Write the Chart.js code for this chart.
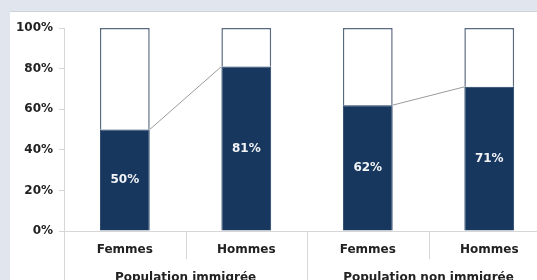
<!DOCTYPE html>
<html>
<head>
<meta charset="utf-8">
<script src="https://cdn.jsdelivr.net/npm/chart.js@4/dist/chart.umd.min.js"></script>
<style>
    html, body { margin: 0; padding: 0; overflow: hidden; }
    body { width: 537px; height: 280px; background: #e1e5ed; position: relative; }
    .panel {
        position: absolute; left: 10px; top: 11px;
        width: 560px; height: 300px;
        background: #fff; border-top: 1px solid #cfd3da;
    }
    .panel canvas { position: absolute; left: 0; top: 0; }
</style>
</head>
<body>
<div class="panel">
    <canvas id="chart" width="545" height="276"></canvas>
</div>
<script>
    'use strict';

    const categories = ['Femmes', 'Hommes', 'Femmes', 'Hommes'];
    const groups = ['Population immigrée', 'Population non immigrée'];
    const shares = [50, 81, 62, 71];
    const remainder = [50, 19, 38, 29];
    const yTicks = [0, 20, 40, 60, 80, 100];

    const NAVY = '#17375e';
    const TEXT = '#222222';
    const GRID = '#d6d6d6';
    const FONT = 'DejaVu Sans';

    // connector lines between the tops of the bars in each group
    const connectorPlugin = {
        id: 'connectors',
        afterDatasetsDraw(chart) {
            const bars = chart.getDatasetMeta(0).data;
            const ctx = chart.ctx;
            ctx.save();
            ctx.strokeStyle = '#9a9a9a';
            ctx.lineWidth = 1;
            for (let i = 0; i + 1 < bars.length; i += 2) {
                const a = bars[i], b = bars[i + 1];
                ctx.beginPath();
                ctx.moveTo(a.x + a.width / 2, a.y);
                ctx.lineTo(b.x - b.width / 2, b.y);
                ctx.stroke();
            }
            ctx.restore();
        }
    };

    // value labels centered in the dark bars
    const valueLabelPlugin = {
        id: 'valueLabels',
        afterDatasetsDraw(chart) {
            const bars = chart.getDatasetMeta(0).data;
            const ctx = chart.ctx;
            ctx.save();
            ctx.fillStyle = '#f2f4f7';
            ctx.font = 'bold 12px "' + FONT + '"';
            ctx.textAlign = 'center';
            ctx.textBaseline = 'middle';
            bars.forEach(function(bar, i) {
                ctx.fillText(shares[i] + '%', bar.x, (bar.y + bar.base) / 2);
            });
            ctx.restore();
        }
    };

    // two-level category separators below the x axis
    const separatorPlugin = {
        id: 'separators',
        afterDraw(chart) {
            const x = chart.scales.x;
            const top = chart.chartArea.bottom;
            const perGroup = categories.length / groups.length;
            const ctx = chart.ctx;
            ctx.save();
            ctx.strokeStyle = GRID;
            ctx.lineWidth = 1;
            for (let i = 0; i <= categories.length; i++) {
                const px = Math.round(x.getPixelForValue(i - 0.5)) + 0.5;
                const bottom = (i % perGroup === 0) ? chart.height : top + 28;
                ctx.beginPath();
                ctx.moveTo(px, top);
                ctx.lineTo(px, bottom);
                ctx.stroke();
            }
            ctx.restore();
        }
    };

    const ctx = document.getElementById('chart').getContext('2d');
    new Chart(ctx, {
        type: 'bar',
        data: {
            labels: categories,
            datasets: [{
                data: shares,
                backgroundColor: NAVY,
                borderColor: '#1f3d63',
                borderWidth: 1,
                barPercentage: 0.41,
                categoryPercentage: 1
            }, {
                data: remainder,
                backgroundColor: '#ffffff',
                borderColor: '#5a6a80',
                borderWidth: 1.5,
                borderSkipped: 'bottom',
                barPercentage: 0.41,
                categoryPercentage: 1
            }]
        },
        options: {
            responsive: false,
            animation: false,
            devicePixelRatio: 1,
            layout: { padding: { top: 16, left: 0, right: 5, bottom: 1 } },
            plugins: {
                legend: { display: false },
                tooltip: { enabled: false }
            },
            scales: {
                x: {
                    stacked: true,
                    offset: true,
                    grid: { display: false, drawTicks: false },
                    border: { color: GRID },
                    ticks: {
                        padding: 12,
                        color: TEXT,
                        font: { family: FONT, size: 12, weight: 'bold' }
                    }
                },
                x2: {
                    type: 'category',
                    position: 'bottom',
                    labels: groups,
                    offset: true,
                    grid: { display: false, drawTicks: false },
                    border: { display: false },
                    ticks: {
                        padding: 1.6,
                        color: TEXT,
                        font: { family: FONT, size: 12, weight: 'bold' }
                    }
                },
                y: {
                    stacked: true,
                    min: 0,
                    max: 100,
                    afterBuildTicks: function(scale) {
                        scale.ticks = yTicks.map(function(v) { return { value: v }; });
                    },
                    grid: {
                        drawOnChartArea: false,
                        tickLength: 5,
                        color: GRID
                    },
                    border: { color: GRID },
                    ticks: {
                        padding: 6,
                        color: TEXT,
                        font: { family: FONT, size: 12, weight: 'bold' },
                        callback: function(value) { return value + '%'; }
                    }
                }
            }
        },
        plugins: [connectorPlugin, valueLabelPlugin, separatorPlugin]
    });
</script>
</body>
</html>
